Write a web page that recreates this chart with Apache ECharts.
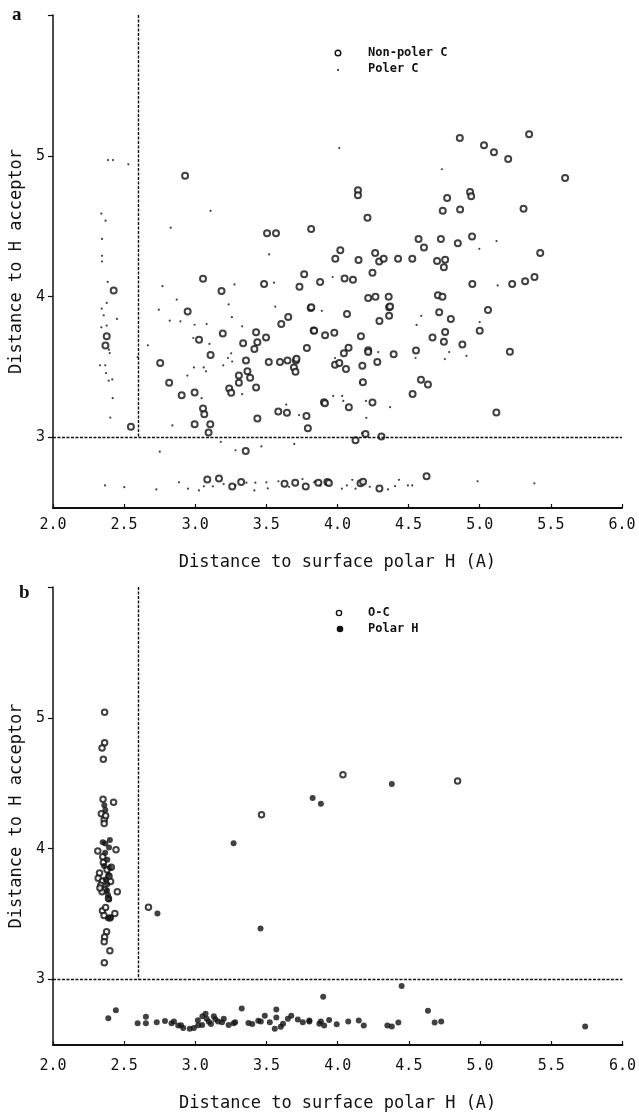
<!DOCTYPE html>
<html><head><meta charset="utf-8">
<script src="https://cdn.jsdelivr.net/npm/echarts@6/dist/echarts.min.js"></script>
<style>html,body{margin:0;padding:0;background:#fff}#c{width:639px;height:1113px}</style>
</head><body><div id="c"></div>
<script>
// ---- Panel a data ----
const nonPolarC = [[2.929,4.858],[3.505,4.45],[3.568,4.45],[3.815,4.48],[3.055,4.127],[3.185,4.04],[3.484,4.09],[3.733,4.07],[3.766,4.16],[3.878,4.105],[2.427,4.044],
[4.86,5.126],[5.347,5.154],[5.03,5.076],[5.10,5.026],[5.20,4.977],[5.60,4.843],[4.144,4.756],[4.144,4.72],[4.771,4.70],[4.932,4.744],[4.94,4.713],[4.74,4.61],[4.862,4.62],[5.308,4.625],[4.211,4.561],[4.57,4.41],[4.608,4.35],[4.727,4.41],[4.846,4.379],[4.946,4.428],[5.425,4.31],[4.02,4.329],[3.985,4.269],[4.148,4.26],[4.265,4.31],[4.293,4.25],[4.325,4.27],[4.426,4.27],[4.526,4.27],[4.70,4.253],[4.757,4.262],[4.748,4.21],[4.05,4.13],[4.109,4.12],[4.246,4.17],[4.948,4.09],[5.228,4.09],[5.319,4.11],[5.385,4.14],[4.216,3.99],[4.267,4.0],[4.36,4.0],[4.706,4.01],[4.738,4.0],
[2.947,3.895],[3.812,3.92],[3.816,3.925],[3.605,3.806],[3.654,3.856],[3.833,3.76],[2.378,3.72],[2.369,3.653],[3.027,3.695],[3.194,3.738],[3.428,3.747],[3.437,3.676],[3.416,3.628],[3.337,3.669],[3.498,3.71],[3.108,3.586],[3.785,3.636],[2.754,3.53],[3.357,3.548],[3.517,3.536],[3.596,3.536],[3.649,3.548],[3.708,3.548],[3.712,3.56],[3.694,3.498],[3.705,3.468],[3.367,3.47],[3.386,3.425],[2.817,3.39],[3.307,3.44],[3.307,3.39],[3.239,3.349],[3.253,3.318],[3.428,3.356],[2.905,3.30],[2.996,3.32],[3.055,3.206],[3.064,3.166],[3.437,3.135],[3.584,3.185],[3.645,3.176],[3.782,3.154],[3.792,3.066],[2.996,3.095],[3.106,3.095],[3.094,3.036],[2.548,3.076],[3.355,2.905],
[3.085,2.703],[3.167,2.71],[3.26,2.653],[3.323,2.684],[3.628,2.673],[3.703,2.68],[3.777,2.653],[3.866,2.68],
[4.363,3.925],[4.37,3.93],[4.363,3.865],[4.067,3.878],[4.715,3.89],[5.058,3.906],[4.797,3.842],[4.295,3.828],[3.836,3.759],[3.913,3.726],[3.978,3.745],[4.165,3.719],[5.0,3.759],[4.757,3.75],[4.668,3.71],[4.748,3.68],[4.878,3.66],[4.078,3.638],[4.045,3.598],[4.216,3.62],[4.216,3.607],[4.395,3.591],[4.552,3.619],[5.212,3.609],[4.28,3.536],[3.983,3.517],[4.013,3.53],[4.06,3.487],[4.175,3.51],[4.587,3.41],[4.636,3.377],[4.179,3.392],[4.528,3.309],[3.905,3.25],[3.912,3.244],[4.246,3.249],[4.08,3.216],[5.117,3.178],[4.127,2.981],[4.197,3.026],[4.309,3.007],[4.626,2.725],
[3.929,2.684],[3.94,2.678],[4.162,2.675],[4.18,2.686],[4.295,2.639]];

const polarC = [[2.387,4.97],[2.422,4.97],[2.53,4.94],[2.34,4.59],[2.37,4.54],[2.345,4.41],[2.345,4.29],[2.345,4.25],[2.385,4.105],[2.828,4.49],[3.108,4.61],[3.52,4.30],[2.77,4.075],[2.87,3.98],[3.276,4.087],[3.554,4.10],
[4.013,5.055],[4.734,4.905],[3.966,4.14],[4.997,4.34],[5.118,4.395],[5.126,4.08],
[2.343,3.916],[2.378,3.956],[2.357,3.868],[2.378,3.795],[2.34,3.783],[2.394,3.624],[2.399,3.6],[2.331,3.513],[2.368,3.513],[2.373,3.458],[2.392,3.404],[2.417,3.413],[2.42,3.28],[2.403,3.142],[2.45,3.842],
[2.667,3.655],[2.595,3.572],[2.744,3.908],[2.821,3.83],[2.896,3.825],[2.996,3.801],[3.08,3.806],[2.987,3.707],[2.991,3.498],[3.06,3.498],[3.076,3.47],[3.197,3.513],[3.23,3.565],[3.253,3.598],[3.258,3.855],[3.235,3.945],[3.33,3.79],[3.563,3.93],[3.1,3.665],[3.26,3.54],[2.945,3.44],[3.045,3.28],[3.33,3.308],[2.84,3.086],[3.73,3.16],[3.64,3.234],[2.751,2.9],[3.283,2.91],[3.465,2.937],[3.696,2.955],[3.18,2.97],
[2.366,2.66],[2.502,2.648],[2.727,2.632],[2.886,2.682],[2.949,2.637],[3.026,2.625],[3.061,2.654],[3.124,2.654],[3.2,2.67],[3.283,2.66],[3.36,2.68],[3.416,2.625],[3.423,2.68],[3.5,2.682],[3.51,2.64],[3.585,2.69],[3.66,2.65],[3.754,2.705],[3.836,2.682],
[3.89,3.9],[4.589,3.864],[4.556,3.8],[5.0,3.82],[4.785,3.607],[4.755,3.557],[4.907,3.58],[4.286,3.607],[3.983,3.565],[4.158,3.39],[3.97,3.296],[4.033,3.296],[4.041,3.26],[4.2,3.26],[4.37,3.216],[4.203,3.14],[4.172,3.03],[4.549,3.565],
[3.844,2.69],[3.879,2.66],[4.031,2.637],[4.066,2.66],[4.104,2.7],[4.127,2.637],[4.227,2.65],[4.355,2.632],[4.405,2.655],[4.432,2.7],[4.495,2.66],[4.525,2.66],[4.985,2.69],[5.384,2.675]];

// ---- Panel b data ----
const oC = [[2.363,5.042],[2.363,4.81],[2.345,4.77],[2.354,4.684],[2.352,4.378],[2.426,4.356],[2.36,4.222],[2.36,4.193],[2.34,4.267],[2.37,4.252],[3.465,4.259],[4.037,4.565],[4.842,4.518],
[2.315,3.983],[2.443,3.993],[2.35,3.938],[2.354,3.894],[2.41,3.859],[2.327,3.815],[2.318,3.775],[2.348,3.753],[2.394,3.79],[2.405,3.75],[2.336,3.72],[2.364,3.687],[2.345,3.672],[2.452,3.672],[2.348,3.526],[2.359,3.489],[2.435,3.504],[2.377,3.365],[2.363,3.326],[2.36,3.289],[2.4,3.22],[2.361,3.128],[2.671,3.553],
[2.38,3.84],[2.33,3.70],[2.39,3.62],[2.37,3.55],[2.40,3.47]];

const polarH = [[2.361,4.333],[2.368,4.296],[3.824,4.387],[3.882,4.343],[4.38,4.494],[3.269,4.042],[3.458,3.39],[2.734,3.504],
[2.35,4.049],[2.4,4.067],[2.368,4.04],[2.367,3.97],[2.394,4.01],[2.382,3.916],[2.359,3.867],[2.4,3.855],[2.37,3.765],[2.382,3.728],[2.387,3.647],[2.394,3.612],[2.387,3.469],[2.407,3.474],[2.38,3.68],[2.39,3.80],
[2.389,2.704],[2.442,2.766],[2.595,2.667],[2.653,2.667],[2.653,2.716],[2.729,2.674],[2.787,2.684],[2.833,2.667],[2.88,2.649],[2.915,2.63],[2.961,2.625],[3.018,2.689],[3.048,2.652],[3.072,2.738],[3.095,2.677],[3.141,2.697],[3.188,2.674],[3.234,2.652],[3.269,2.667],[3.326,2.778],[3.28,2.674],[3.373,2.669],[3.442,2.686],[3.488,2.723],[3.523,2.674],[3.569,2.772],[3.569,2.711],[3.558,2.625],[3.616,2.662],[3.674,2.723],[3.72,2.694],[3.755,2.674],[3.801,2.679],[3.871,2.662],
[3.05,2.72],[3.08,2.70],[3.11,2.66],[3.13,2.72],[3.16,2.68],[3.20,2.70],[3.02,2.65],[2.99,2.63],[2.90,2.65],[2.85,2.68],[3.40,2.66],[3.46,2.68],[3.60,2.64],[3.65,2.70],
[3.898,2.869],[4.449,2.95],[4.634,2.761],[3.801,2.687],[3.882,2.679],[3.905,2.649],[3.94,2.691],[3.993,2.659],[4.074,2.679],[4.148,2.687],[4.183,2.649],[4.349,2.649],[4.38,2.642],[4.426,2.671],[4.681,2.671],[4.727,2.679],[5.738,2.642]];

const xTickLabels = ['2.0','2.5','3.0','3.5','4.0','4.5','5.0','5.5','6.0'];
const yTickLabels = [3,4,5];
const xName = 'Distance to surface polar H (A)';
const yName = 'Distance to H acceptor';
const cutX = 2.6, cutY = 3;

const INK = '#111';
const MONO = 'DejaVu Sans Mono';

function xAxis(gi, margin, gap){
  return {type:'value', gridIndex:gi, min:2, max:6, interval:0.5,
    name:xName, nameLocation:'middle', nameGap:gap,
    nameTextStyle:{fontFamily:MONO, fontSize:17, color:INK},
    axisLine:{lineStyle:{color:INK, width:2}},
    axisTick:{inside:true, length:4, lineStyle:{color:INK, width:1.2}},
    axisLabel:{margin:margin, fontFamily:MONO, fontSize:15, color:INK,
      formatter:(v)=>xTickLabels[Math.round((v-2)/0.5)]||''},
    splitLine:{show:false}};
}
function yAxis(gi){
  return {type:'value', gridIndex:gi, min:2.5, max:6,
    name:yName, nameLocation:'middle', nameGap:26,
    nameTextStyle:{fontFamily:MONO, fontSize:17, color:INK},
    axisLine:{lineStyle:{color:INK, width:1.5}},
    axisTick:{length:5, customValues:[3,4,5,6], lineStyle:{color:INK, width:1.2}},
    axisLabel:{margin:8, fontFamily:MONO, fontSize:15, color:INK, customValues:yTickLabels},
    splitLine:{show:false}};
}
function refLines(gi){
  return {type:'scatter', xAxisIndex:gi, yAxisIndex:gi, data:[], silent:true,
    markLine:{silent:true, symbol:'none', animation:false, label:{show:false},
      lineStyle:{color:INK, type:[3,1.5], width:1.4},
      data:[[{coord:[cutX,6]},{coord:[cutX,cutY]}],[{coord:[2,cutY]},{coord:[6,cutY]}]]}};
}

const chart = echarts.init(document.getElementById('c'), null, {renderer:'canvas'});
chart.setOption({
  animation:false,
  backgroundColor:'#fff',
  grid:[{left:50, right:17, top:15, height:493},{left:49, right:14, top:587, height:470}],
  xAxis:[xAxis(0, 10, 46), xAxis(1, 14, 50)],
  yAxis:[yAxis(0), yAxis(1)],
  series:[
    refLines(0), refLines(1),
    {name:'Non-poler C', type:'scatter', xAxisIndex:0, yAxisIndex:0, data:nonPolarC,
      symbol:'emptyCircle', symbolSize:6, itemStyle:{color:INK, borderColor:INK, borderWidth:1.4}},
    {name:'Poler C', type:'scatter', xAxisIndex:0, yAxisIndex:0, data:polarC,
      symbol:'circle', symbolSize:2.2, itemStyle:{color:INK}},
    {name:'O-C', type:'scatter', xAxisIndex:1, yAxisIndex:1, data:oC,
      symbol:'emptyCircle', symbolSize:5.5, itemStyle:{color:INK, borderColor:INK, borderWidth:1.4}},
    {name:'Polar H', type:'scatter', xAxisIndex:1, yAxisIndex:1, data:polarH,
      symbol:'circle', symbolSize:6, itemStyle:{color:INK}}
  ],
  graphic:[
    {type:'text', left:12, top:6, style:{text:'a', font:'bold 19px "Liberation Serif"', fill:INK}},
    {type:'text', left:19, top:584, style:{text:'b', font:'bold 19px "Liberation Serif"', fill:INK}},
    {type:'circle', shape:{cx:338, cy:53, r:2.8}, style:{fill:'#fff', stroke:INK, lineWidth:1.4}},
    {type:'text', x:368, y:53, style:{text:'Non-poler C', font:'bold 12px "DejaVu Sans Mono"', fill:INK, textVerticalAlign:'middle'}},
    {type:'circle', shape:{cx:338, cy:70, r:1}, style:{fill:INK}},
    {type:'text', x:368, y:69, style:{text:'Poler C', font:'bold 12px "DejaVu Sans Mono"', fill:INK, textVerticalAlign:'middle'}},
    {type:'circle', shape:{cx:339, cy:613, r:2.6}, style:{fill:'#fff', stroke:INK, lineWidth:1.4}},
    {type:'text', x:368, y:613, style:{text:'O-C', font:'bold 12px "DejaVu Sans Mono"', fill:INK, textVerticalAlign:'middle'}},
    {type:'circle', shape:{cx:340, cy:629, r:3.3}, style:{fill:INK}},
    {type:'text', x:368, y:629, style:{text:'Polar H', font:'bold 12px "DejaVu Sans Mono"', fill:INK, textVerticalAlign:'middle'}}
  ]
});
</script></body></html>
